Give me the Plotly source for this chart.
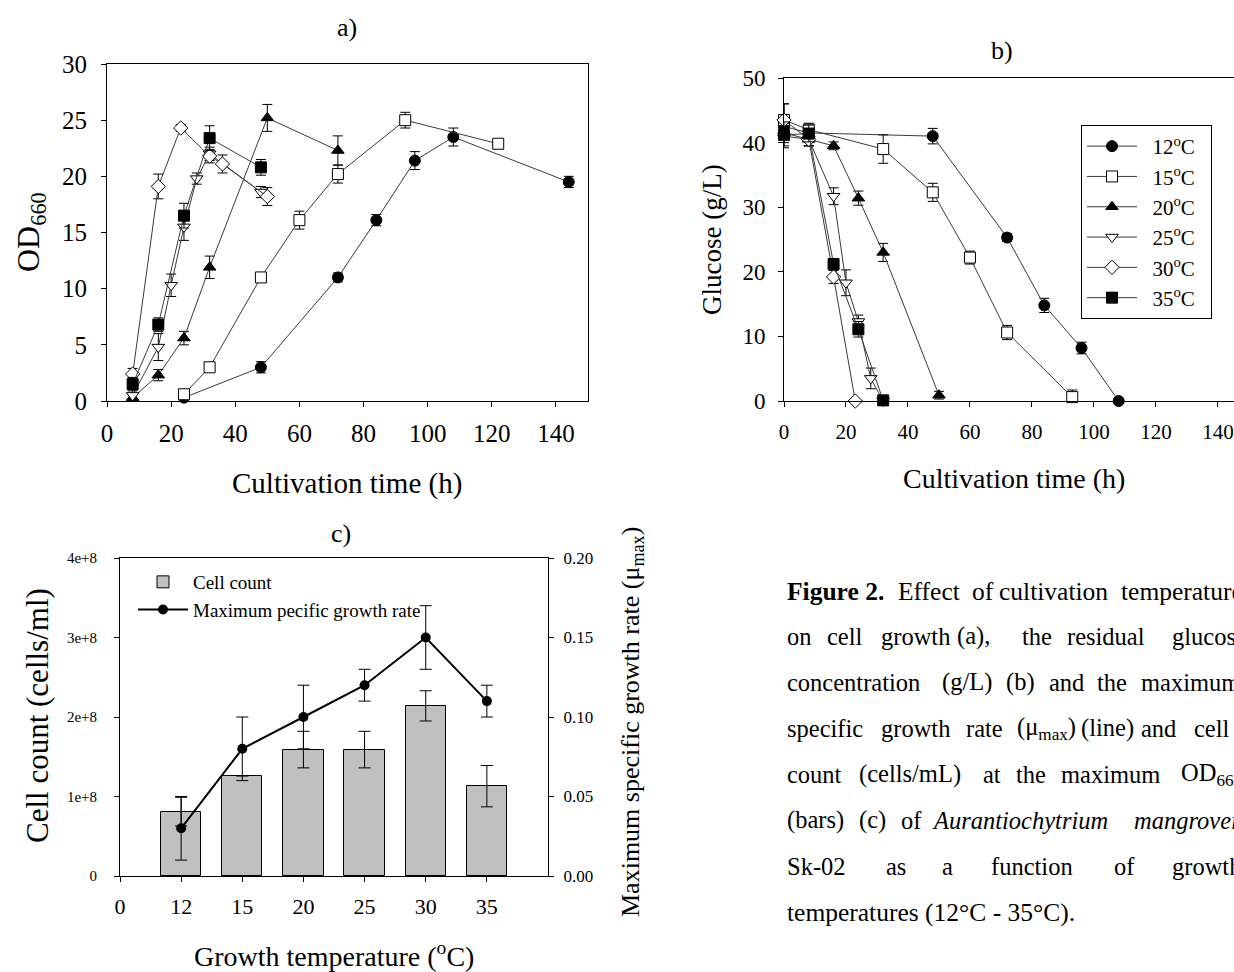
import plotly.graph_objects as go

W, H = 1234, 972
FONT = "Liberation Serif"

def fx(p):
    return p / W

def fy(p):
    return 1 - p / H

# ---------------- Panel a: OD660 vs time ----------------
a_labels = ["12°C", "15°C", "20°C", "25°C", "30°C", "35°C"]
a_x12 = [24, 48, 72, 84, 96, 108, 144]
a_y12 = [0.3, 3.0, 11.0, 16.1, 21.4, 23.5, 19.5]
a_e12 = [0.3, 0.5, 0.4, 0.5, 0.8, 0.8, 0.5]
a_x15 = [24, 32, 48, 60, 72, 93, 122]
a_y15 = [0.6, 3.0, 11.0, 16.1, 20.2, 25.0, 22.9]
a_e15 = [0.3, 0.3, 0.4, 0.8, 0.8, 0.7, 0.3]
a_x20 = [8, 16, 24, 32, 50, 72]
a_y20 = [0.3, 2.3, 5.6, 11.9, 25.2, 22.3]
a_e20 = [0.3, 0.5, 0.6, 1.0, 1.2, 1.3]
a_x25 = [8, 16, 20, 24, 28, 32, 48]
a_y25 = [0.5, 4.8, 10.3, 15.5, 19.8, 22.0, 18.6]
a_e25 = [0.5, 1.2, 1.0, 1.2, 0.5, 0.6, 0.5]
a_x30 = [8, 16, 23, 32, 36, 50]
a_y30 = [2.4, 19.1, 24.3, 21.8, 21.1, 18.2]
a_e30 = [0.5, 1.1, 0.3, 0.6, 0.8, 0.8]
a_x35 = [8, 16, 24, 32, 48]
a_y35 = [1.5, 6.8, 16.5, 23.4, 20.8]
a_e35 = [0.6, 0.6, 1.1, 1.1, 0.7]

# ---------------- Panel b: glucose vs time ----------------
b_x12 = [0, 8, 48, 72, 84, 96, 108]
b_y12 = [42.5, 41.5, 41.0, 25.3, 14.8, 8.2, 0.0]
b_e12 = [1.0, 1.0, 1.2, 0.6, 1.1, 0.9, 0.0]
b_x15 = [0, 8, 32, 48, 60, 72, 93]
b_y15 = [43.5, 42.0, 39.0, 32.3, 22.2, 10.6, 0.6]
b_e15 = [2.5, 1.0, 2.2, 1.4, 1.0, 1.1, 1.1]
b_x20 = [0, 8, 16, 24, 32, 50]
b_y20 = [41.5, 40.5, 39.5, 31.4, 23.0, 0.9]
b_e20 = [1.5, 1.0, 0.6, 1.1, 1.4, 0.6]
b_x25 = [0, 8, 16, 20, 24, 28, 32]
b_y25 = [41.0, 40.5, 31.7, 18.3, 12.3, 3.5, 0.0]
b_e25 = [1.5, 1.0, 1.3, 2.0, 1.0, 1.6, 0.0]
b_x30 = [0, 8, 16, 23]
b_y30 = [43.5, 40.5, 19.2, 0.0]
b_e30 = [2.5, 1.0, 1.0, 0.0]
b_x35 = [0, 8, 16, 24, 32]
b_y35 = [41.2, 41.4, 21.2, 11.1, 0.1]
b_e35 = [2.0, 1.3, 0.6, 1.2, 0.0]

# ---------------- Panel c: cell count & mu max ----------------
c_temps = ["12", "15", "20", "25", "30", "35"]
c_cells = [0.81e8, 1.26e8, 1.59e8, 1.59e8, 2.14e8, 1.13e8]
c_cells_err = [0.18e8, 0.0, 0.23e8, 0.23e8, 0.19e8, 0.26e8]
c_mu = [0.03, 0.08, 0.10, 0.12, 0.15, 0.11]
c_mu_err = [0.02, 0.02, 0.02, 0.01, 0.02, 0.01]
c_xticktext = ["0"] + c_temps
c_yticks_left = [0, 1e8, 2e8, 3e8, 4e8]
c_yticktext_left = ["0", "1e+8", "2e+8", "3e+8", "4e+8"]

symbols = [
    dict(symbol="circle", color="black"),
    dict(symbol="square", color="white"),
    dict(symbol="triangle-up", color="black"),
    dict(symbol="triangle-down", color="white"),
    dict(symbol="diamond", color="white"),
    dict(symbol="square", color="black"),
]

LINE_C = "#3a3a3a"

fig = go.Figure()

a_series = [(a_x12, a_y12, a_e12), (a_x15, a_y15, a_e15), (a_x20, a_y20, a_e20),
            (a_x25, a_y25, a_e25), (a_x30, a_y30, a_e30), (a_x35, a_y35, a_e35)]
for (xs, ys, es), sym, lab in zip(a_series, symbols, a_labels):
    fig.add_trace(go.Scatter(
        x=xs, y=ys, mode="lines+markers", name=lab, showlegend=False,
        line=dict(color=LINE_C, width=1),
        marker=dict(symbol=sym["symbol"], color=sym["color"], size=11,
                    line=dict(color="black", width=1)),
        error_y=dict(type="data", array=es, visible=True, color="black",
                     thickness=1, width=5),
        cliponaxis=False, xaxis="x", yaxis="y"))

b_series = [(b_x12, b_y12, b_e12), (b_x15, b_y15, b_e15), (b_x20, b_y20, b_e20),
            (b_x25, b_y25, b_e25), (b_x30, b_y30, b_e30), (b_x35, b_y35, b_e35)]
SP = "\u2002"
b_names = [SP + t + "<sup>o</sup>C" + SP for t in ["12", "15", "20", "25", "30", "35"]]
for (xs, ys, es), sym, lab in zip(b_series, symbols, b_names):
    fig.add_trace(go.Scatter(
        x=xs, y=ys, mode="lines+markers", name=lab, showlegend=True,
        legend="legend",
        line=dict(color=LINE_C, width=1),
        marker=dict(symbol=sym["symbol"], color=sym["color"], size=11,
                    line=dict(color="black", width=1)),
        error_y=dict(type="data", array=es, visible=True, color="black",
                     thickness=1, width=5),
        cliponaxis=False, xaxis="x2", yaxis="y2"))

c_pos = list(range(1, len(c_temps) + 1))
fig.add_trace(go.Bar(
    x=c_pos, y=c_cells, width=0.66, name="Cell count", legend="legend2",
    marker=dict(color="#c0c0c0", line=dict(color="black", width=1)),
    error_y=dict(type="data", array=c_cells_err, visible=True, color="black",
                 thickness=1, width=6),
    xaxis="x3", yaxis="y3"))
fig.add_trace(go.Scatter(
    x=c_pos, y=c_mu, mode="lines+markers", name="Maximum pecific growth rate",
    legend="legend2",
    line=dict(color="black", width=2),
    marker=dict(symbol="circle", color="black", size=10),
    error_y=dict(type="data", array=c_mu_err, visible=True, color="black",
                 thickness=1, width=6),
    cliponaxis=False, xaxis="x3", yaxis="y4"))

def ax(size, **kw):
    d = dict(showline=True, linecolor="black", linewidth=1, ticks="outside",
             ticklen=5, tickcolor="black", tickwidth=1, showgrid=False,
             zeroline=False, automargin=False,
             tickfont=dict(family=FONT, size=size, color="black"))
    d.update(kw)
    return d

fig.update_layout(
    width=W, height=H,
    margin=dict(l=0, r=0, t=0, b=0, pad=0, autoexpand=False),
    paper_bgcolor="white", plot_bgcolor="white",
    font=dict(family=FONT, color="black"),
    xaxis=ax(25, domain=[fx(107), fx(588)], range=[0, 150],
             tickvals=list(range(0, 141, 20)), anchor="y", mirror=True,
             ticklabelstandoff=5),
    yaxis=ax(25, domain=[fy(401), fy(64)], range=[0, 30], dtick=5,
             anchor="x", mirror=True, ticklabelstandoff=9),
    xaxis2=ax(21, domain=[fx(784), 1.0], range=[0, 145.2],
              tickvals=list(range(0, 141, 20)), anchor="y2", mirror=True,
              ticklabelstandoff=7),
    yaxis2=ax(23, domain=[fy(401), fy(78)], range=[0, 50], dtick=10,
              anchor="x2", ticklabelstandoff=8),
    xaxis3=ax(22, domain=[fx(120), fx(548)], range=[0, 7],
              tickvals=list(range(0, 7)), ticktext=c_xticktext, anchor="y3",
              mirror=True, ticklabelstandoff=6),
    yaxis3=ax(15, domain=[fy(876), fy(558)], range=[0, 4e8],
              tickvals=c_yticks_left, ticktext=c_yticktext_left, anchor="x3",
              ticklabelstandoff=14),
    yaxis4=ax(17, domain=[fy(876), fy(558)], range=[0, 0.2],
              tickvals=[0, 0.05, 0.10, 0.15, 0.20], tickformat=".2f",
              anchor="x3", overlaying="y3", side="right",
              ticklabelstandoff=6),
    legend=dict(x=fx(1081), y=fy(125), xanchor="left", yanchor="top",
                bordercolor="black", borderwidth=1, bgcolor="white",
                font=dict(family=FONT, size=21, color="black"),
                itemwidth=50, tracegroupgap=0),
    legend2=dict(x=fx(133), y=fy(563), xanchor="left", yanchor="top",
                 bgcolor="rgba(0,0,0,0)",
                 font=dict(family=FONT, size=19, color="black"),
                 itemwidth=50, tracegroupgap=0),
    bargap=0,
)

ann = []

def text(px, py, s, size, angle=0, anchor="center", **kw):
    ann.append(dict(x=fx(px), y=fy(py), xref="paper", yref="paper", text=s,
                    showarrow=False, textangle=angle, xanchor=anchor,
                    yanchor="middle",
                    font=dict(family=FONT, size=size, color="black"), **kw))

# panel titles
text(347, 28, "a)", 26)
text(1002, 50, "b)", 26)
text(341, 533, "c)", 26)
# axis titles
text(30, 232, "OD<sub>660</sub>", 32, angle=-90)
text(347, 483, "Cultivation time (h)", 29)
text(712, 240, "Glucose (g/L)", 27, angle=-90)
text(1014, 478, "Cultivation time (h)", 28)
text(37, 716, "Cell count (cells/ml)", 31, angle=-90)
text(334, 954, "Growth temperature (<sup>o</sup>C)", 28)
text(632, 722, "Maximum specific growth rate (μ<sub>max</sub>)", 26, angle=-90)

# caption (justified lines placed word by word)
CX = -3
cap_lines = [
    (591, 25.5, [(788, "<b>Figure 2.</b>"), (899, "Effect"), (973, "of"),
                 (1000, "cultivation"), (1122, "temperature")]),
    (636, 24.5, [(788, "on"), (828, "cell"), (882, "growth"), (958, "(a),"),
                 (1023, "the"), (1068, "residual"), (1173, "glucose")]),
    (682, 24.5, [(788, "concentration"), (943, "(g/L)"), (1007, "(b)"),
                 (1050, "and"), (1098, "the"), (1142, "maximum")]),
    (728, 24.5, [(788, "specific"), (882, "growth"), (967, "rate"),
                 (1018, "(μ<sub>max</sub>)"), (1082, "(line)"), (1142, "and"),
                 (1195, "cell")]),
    (774, 24.5, [(788, "count"), (860, "(cells/mL)"), (984, "at"), (1017, "the"),
                 (1062, "maximum"), (1182, "OD<sub>660</sub>")]),
    (820, 24.5, [(788, "(bars)"), (860, "(c)"), (902, "of"),
                 (933, "<i>Aurantiochytrium</i>"), (1135, "<i>mangrovei</i>")]),
    (866, 24.5, [(788, "Sk-02"), (887, "as"), (943, "a"), (992, "function"),
                 (1115, "of"), (1173, "growth")]),
    (912, 25.5, [(788, "temperatures (12°C - 35°C).")]),
]
for py, fs, words in cap_lines:
    for px, w in words:
        text(px + CX, py, w, fs, anchor="left")

fig.update_layout(annotations=ann)

fig.write_html("out.html")
